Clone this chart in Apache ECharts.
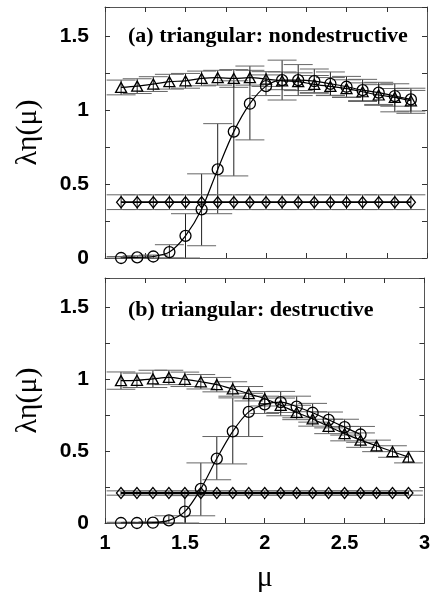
<!DOCTYPE html>
<html><head><meta charset="utf-8">
<script src="https://cdn.jsdelivr.net/npm/echarts@6/dist/echarts.min.js"></script>
<style>html,body{margin:0;padding:0;background:#fff}#c{width:433px;height:594px}</style>
</head><body><div id="c"></div>
<script>
// ---------- data ----------
const MU = [1.1,1.2,1.3,1.4,1.5,1.6,1.7,1.8,1.9,2.0,2.1,2.2,2.3,2.4,2.5,2.6,2.7,2.8,2.9];
const X_TICK_LABELS = [1, 1.5, 2, 2.5, 3];
const Y_TICK_LABELS = [0, 0.5, 1, 1.5];
const PANEL_TITLES = ['(a) triangular: nondestructive', '(b) triangular: destructive'];
const Y_NAME = 'λη(μ)';
const X_NAME = 'μ';

// panel (a) nondestructive
const A_TRI = [1.155,1.164,1.178,1.194,1.200,1.216,1.221,1.216,1.221,1.212,1.200,1.194,1.176,1.162,1.147,1.126,1.104,1.088,1.065];
const A_TRI_ERR = [0.05,0.05,0.05,0.05,0.05,0.05,0.05,0.06,0.05,0.05,0.06,0.06,0.06,0.06,0.06,0.06,0.07,0.06,0.07];
const A_CIR = [0.0,0.004,0.01,0.04,0.15,0.33,0.60,0.856,1.045,1.164,1.205,1.205,1.198,1.18,1.16,1.137,1.12,1.097,1.074];
const A_CIR_LO = [0,0,0,0,0,0.083,0.30,0.556,0.80,1.10,1.07,1.10,1.12,1.10,1.09,1.06,1.04,0.99,0.98];
const A_CIR_HI = [0.01,0.015,0.02,0.09,0.30,0.57,0.91,1.20,1.30,1.24,1.34,1.31,1.28,1.26,1.23,1.21,1.19,1.18,1.15];
const A_DIA = [0.378,0.378,0.378,0.378,0.378,0.378,0.378,0.378,0.378,0.378,0.378,0.378,0.378,0.378,0.378,0.378,0.378,0.378,0.378];
const A_DIA_ERR = [0.05,0.05,0.05,0.05,0.05,0.05,0.05,0.05,0.05,0.05,0.05,0.05,0.05,0.05,0.05,0.05,0.05,0.05,0.05];

// panel (b) destructive
const B_TRI = [0.988,0.99,1.0,1.01,0.997,0.98,0.96,0.93,0.897,0.862,0.817,0.767,0.722,0.67,0.62,0.575,0.535,0.496,0.457];
const B_TRI_ERR = [0.06,0.05,0.06,0.05,0.05,0.05,0.05,0.05,0.05,0.05,0.05,0.05,0.05,0.05,0.05,0.05,0.04,0.04,0.04];
const B_CIR = [0,0,0.002,0.018,0.079,0.237,0.447,0.636,0.771,0.823,0.839,0.807,0.765,0.716,0.665,0.614,null,null,null];
const B_CIR_LO = [0,0,0,0,0,0.05,0.30,0.41,0.60,0.76,0.744,0.73,0.70,0.66,0.61,0.56,null,null,null];
const B_CIR_HI = [0.005,0.005,0.008,0.05,0.19,0.417,0.60,0.868,0.90,0.88,0.913,0.88,0.83,0.77,0.72,0.67,null,null,null];
const B_DIA = [0.208,0.208,0.208,0.208,0.208,0.208,0.208,0.208,0.208,0.208,0.208,0.208,0.208,0.208,0.208,0.208,0.208,0.208,0.208];
const B_DIA_ERR = [0.015,0.015,0.015,0.015,0.015,0.015,0.015,0.015,0.015,0.015,0.015,0.015,0.015,0.015,0.015,0.015,0.015,0.015,0.015];

// ---------- chart ----------
const CAP = 0.09;
const LBL_FONT = {fontFamily:'Liberation Sans, Arial, sans-serif', fontWeight:'bold', color:'#000'};

function pairs(ys){ const out=[]; MU.forEach((x,i)=>{ if(ys[i]!=null) out.push([x, ys[i]]); }); return out; }
function errData(lo, hi){ const out=[]; MU.forEach((x,i)=>{ if(lo[i]!=null) out.push([x, lo[i], hi[i]]); }); return out; }
function symErr(v, e){ return [v.map((y,i)=>y-e[i]), v.map((y,i)=>y+e[i])]; }

function errSeries(g, data){
  return {
    type:'custom', xAxisIndex:g*2, yAxisIndex:g*2, data, silent:true, z:1,
    encode:{x:0, y:[1,2]},
    renderItem(params, api){
      const x=api.value(0), l=api.value(1), h=api.value(2);
      const p1=api.coord([x,l]), p2=api.coord([x,h]);
      const a1=api.coord([x-CAP,l]), b1=api.coord([x+CAP,l]);
      const a2=api.coord([x-CAP,h]), b2=api.coord([x+CAP,h]);
      return {type:'group', children:[
        {type:'line', shape:{x1:p1[0],y1:p1[1],x2:p2[0],y2:p2[1]}, style:{stroke:'#222', lineWidth:1}},
        {type:'line', shape:{x1:a1[0],y1:a1[1],x2:b1[0],y2:b1[1]}, style:{stroke:'#666', lineWidth:1}},
        {type:'line', shape:{x1:a2[0],y1:a2[1],x2:b2[0],y2:b2[1]}, style:{stroke:'#666', lineWidth:1}}
      ]};
    }
  };
}
function lineSeries(g, ys, symbol, size, smooth, lw){
  return {
    type:'line', xAxisIndex:g*2, yAxisIndex:g*2, data:pairs(ys), smooth, symbol, symbolSize:size,
    showSymbol:true, z:3, silent:true,
    lineStyle:{color:'#000', width:lw},
    itemStyle:{color:'rgba(0,0,0,0)', borderColor:'#000', borderWidth:1.3}
  };
}

const grids = [
  {left:105, right:6, top:7, height:251},
  {left:105, right:6, top:278, height:252}
];
const xAxes=[], yAxes=[];
grids.forEach((g,gi)=>{
  const common = {type:'value', min:1, max:3, interval:0.25, gridIndex:gi,
    axisLine:{show:true, onZero:false, lineStyle:{color:'#555', width:1}},
    axisTick:{show:true, inside:true, length:5, lineStyle:{color:'#333'}},
    splitLine:{show:false}};
  xAxes.push(Object.assign({}, common, {position:'bottom',
    axisLabel:{show: gi===1, margin:10, fontSize:20, ...LBL_FONT, formatter:v=>X_TICK_LABELS.some(t=>Math.abs(t-v)<1e-9)?String(v):''},
    name: gi===1?X_NAME:'', nameLocation:'middle', nameGap:40,
    nameTextStyle:{fontFamily:'Liberation Serif, Times New Roman, serif', fontSize:30, color:'#000'}}));
  xAxes.push(Object.assign({}, common, {position:'top', axisLabel:{show:false}}));
  const ycommon = {type:'value', min:0, max:1.7, interval:0.25, gridIndex:gi,
    axisLine:{show:true, onZero:false, lineStyle:{color:'#555', width:1}},
    axisTick:{show:true, inside:true, length:5, lineStyle:{color:'#333'}},
    splitLine:{show:false}};
  yAxes.push(Object.assign({}, ycommon, {position:'left',
    axisLabel:{show:true, margin:16, fontSize:21, ...LBL_FONT, formatter:v=>Y_TICK_LABELS.some(t=>Math.abs(t-v)<1e-9)?String(v):''},
    name:Y_NAME, nameLocation:'middle', nameGap:62, nameRotate:90,
    nameTextStyle:{fontFamily:'Liberation Serif, Times New Roman, serif', fontSize:30, color:'#000'}}));
  yAxes.push(Object.assign({}, ycommon, {position:'right', axisLabel:{show:false}}));
});

const [aTriLo, aTriHi] = symErr(A_TRI, A_TRI_ERR);
const [aDiaLo, aDiaHi] = symErr(A_DIA, A_DIA_ERR);
const [bTriLo, bTriHi] = symErr(B_TRI, B_TRI_ERR);
const [bDiaLo, bDiaHi] = symErr(B_DIA, B_DIA_ERR);

const series = [
  errSeries(0, errData(aTriLo, aTriHi)),
  errSeries(0, errData(A_CIR_LO, A_CIR_HI)),
  errSeries(0, errData(aDiaLo, aDiaHi)),
  lineSeries(0, A_TRI, 'triangle', [11,10], 0.3, 1.2),
  lineSeries(0, A_CIR, 'circle', 11, 0.3, 1.2),
  lineSeries(0, A_DIA, 'diamond', [9,11], false, 1.8),
  errSeries(1, errData(bTriLo, bTriHi)),
  errSeries(1, errData(B_CIR_LO, B_CIR_HI)),
  errSeries(1, errData(bDiaLo, bDiaHi)),
  lineSeries(1, B_TRI, 'triangle', [11,10], 0.3, 1.2),
  lineSeries(1, B_CIR, 'circle', 11, 0.3, 1.2),
  lineSeries(1, B_DIA, 'diamond', [9,11], false, 1.8)
];

const chart = echarts.init(document.getElementById('c'), null, {renderer:'canvas'});
chart.setOption({
  backgroundColor:'#fff',
  animation:false,
  title: PANEL_TITLES.map((t,i)=>({text:t, left:123, top: i===0 ? 20 : 294,
    textStyle:{fontFamily:'Liberation Serif, Times New Roman, serif', fontWeight:'bold', fontSize:22, color:'#000'}})),
  grid: grids,
  xAxis: xAxes,
  yAxis: yAxes,
  series
});
</script></body></html>
